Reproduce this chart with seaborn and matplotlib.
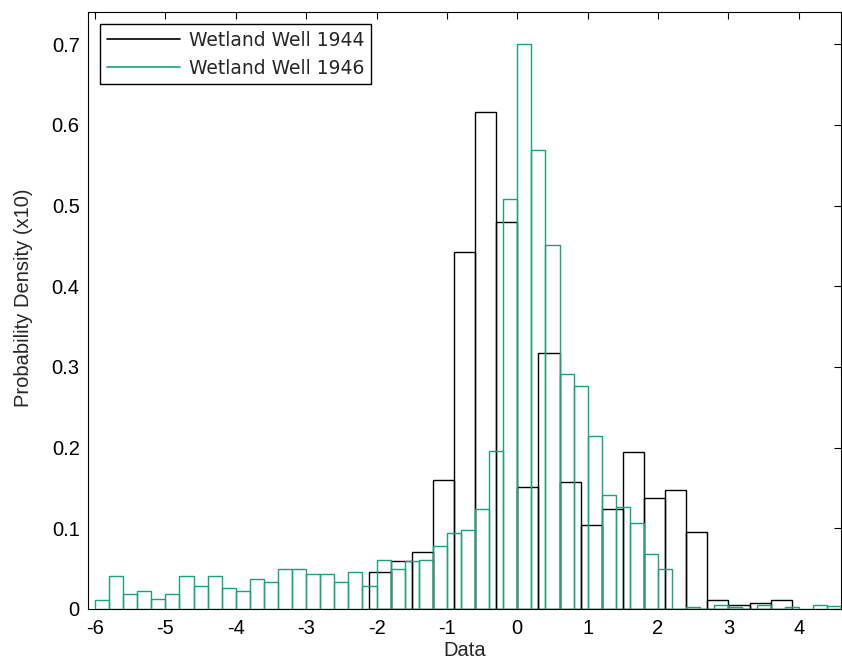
import numpy as np
import pandas as pd
import matplotlib
matplotlib.use("Agg")
import matplotlib.pyplot as plt
import seaborn as sns
from matplotlib.lines import Line2D

# Series names
series_names = ["Wetland Well 1944", "Wetland Well 1946"]

# 1944: probability density per bin (x10), bins of width 0.3 starting at -2.1
bin_start_1944 = -2.1
bin_width_1944 = 0.3
density_1944 = [0.046, 0.059, 0.071, 0.160, 0.443, 0.616, 0.480, 0.151,
                0.317, 0.158, 0.104, 0.124, 0.195, 0.137, 0.147, 0.095,
                0.011, 0.005, 0.008, 0.011]

# 1946: probability density per bin (x10), bins of width 0.2 starting at -6.0
bin_start_1946 = -6.0
bin_width_1946 = 0.2
density_1946 = [0.011, 0.041, 0.019, 0.022, 0.013, 0.019, 0.041, 0.029,
                0.041, 0.026, 0.022, 0.037, 0.033, 0.050, 0.050, 0.043,
                0.043, 0.033, 0.046, 0.029, 0.061, 0.050, 0.059, 0.061,
                0.078, 0.094, 0.098, 0.124, 0.196, 0.508, 0.700, 0.569,
                0.451, 0.291, 0.276, 0.215, 0.141, 0.126, 0.106, 0.068,
                0.050, 0.000, 0.002, 0.000, 0.005, 0.003, 0.000, 0.005,
                0.000, 0.002, 0.000, 0.005, 0.004]

# Axis ticks and labels
x_ticks = [-6, -5, -4, -3, -2, -1, 0, 1, 2, 3, 4]
x_tick_labels = ["-6", "-5", "-4", "-3", "-2", "-1", "0", "1", "2", "3", "4"]
y_ticks = [0, 0.1, 0.2, 0.3, 0.4, 0.5, 0.6, 0.7]
y_tick_labels = ["0", "0.1", "0.2", "0.3", "0.4", "0.5", "0.6", "0.7"]

color_1944 = "#000000"
color_1946 = "#1ba27c"

sns.set_style("white")
plt.rcParams["font.family"] = ["Liberation Sans", "DejaVu Sans"]
plt.rcParams["axes.unicode_minus"] = False

W, H = 842, 670
fig = plt.figure(figsize=(W / 100, H / 100), dpi=100)
left, right, top, bottom = 88, 841, 12, 609
ax = fig.add_axes([left / W, 1 - bottom / H, (right - left) / W, (bottom - top) / H])


def draw_hist(values, start, width, color, z):
    edges = [start + width * i for i in range(len(values) + 1)]
    frame = pd.DataFrame({
        "center": [(a + b) / 2 for a, b in zip(edges[:-1], edges[1:])],
        "density": values,
    })
    sns.histplot(data=frame, x="center", weights="density", bins=edges,
                 stat="count", element="bars", fill=False, color=color,
                 linewidth=1.0, ax=ax, zorder=z)


draw_hist(density_1944, bin_start_1944, bin_width_1944, color_1944, 2)
draw_hist(density_1946, bin_start_1946, bin_width_1946, color_1946, 3)

ax.set_xlim(-6.1, 4.6)
ax.set_ylim(0, 0.74)
ax.set_xticks(x_ticks)
ax.set_xticklabels(x_tick_labels)
ax.set_yticks(y_ticks)
ax.set_yticklabels(y_tick_labels)
ax.tick_params(axis="both", direction="in", top=True, right=True,
               length=5, width=0.8, labelsize=14.5, colors="black")
ax.tick_params(axis="y", pad=6)
ax.tick_params(axis="x", pad=7)
for s in ax.spines.values():
    s.set_color("black")
    s.set_linewidth(0.8)
    s.set_visible(True)

ax.set_xlabel("Data", fontsize=14.5, labelpad=2)
ax.set_ylabel("Probability Density (x10)", fontsize=14.5)
ax.yaxis.set_label_coords(-0.073, 0.521)

handles = [Line2D([], [], color=color_1944, lw=1.2),
           Line2D([], [], color=color_1946, lw=1.2)]
leg = ax.legend(handles, series_names, loc="upper left",
                bbox_to_anchor=(0.016, 0.98), borderaxespad=0,
                fancybox=False, framealpha=1, edgecolor="black",
                handlelength=3.9, handletextpad=0.5, labelspacing=0.48,
                borderpad=0.35, prop={"family": "DejaVu Sans", "size": 13.5})
leg.get_frame().set_linewidth(1.0)

fig.savefig("out.png", dpi=100)
